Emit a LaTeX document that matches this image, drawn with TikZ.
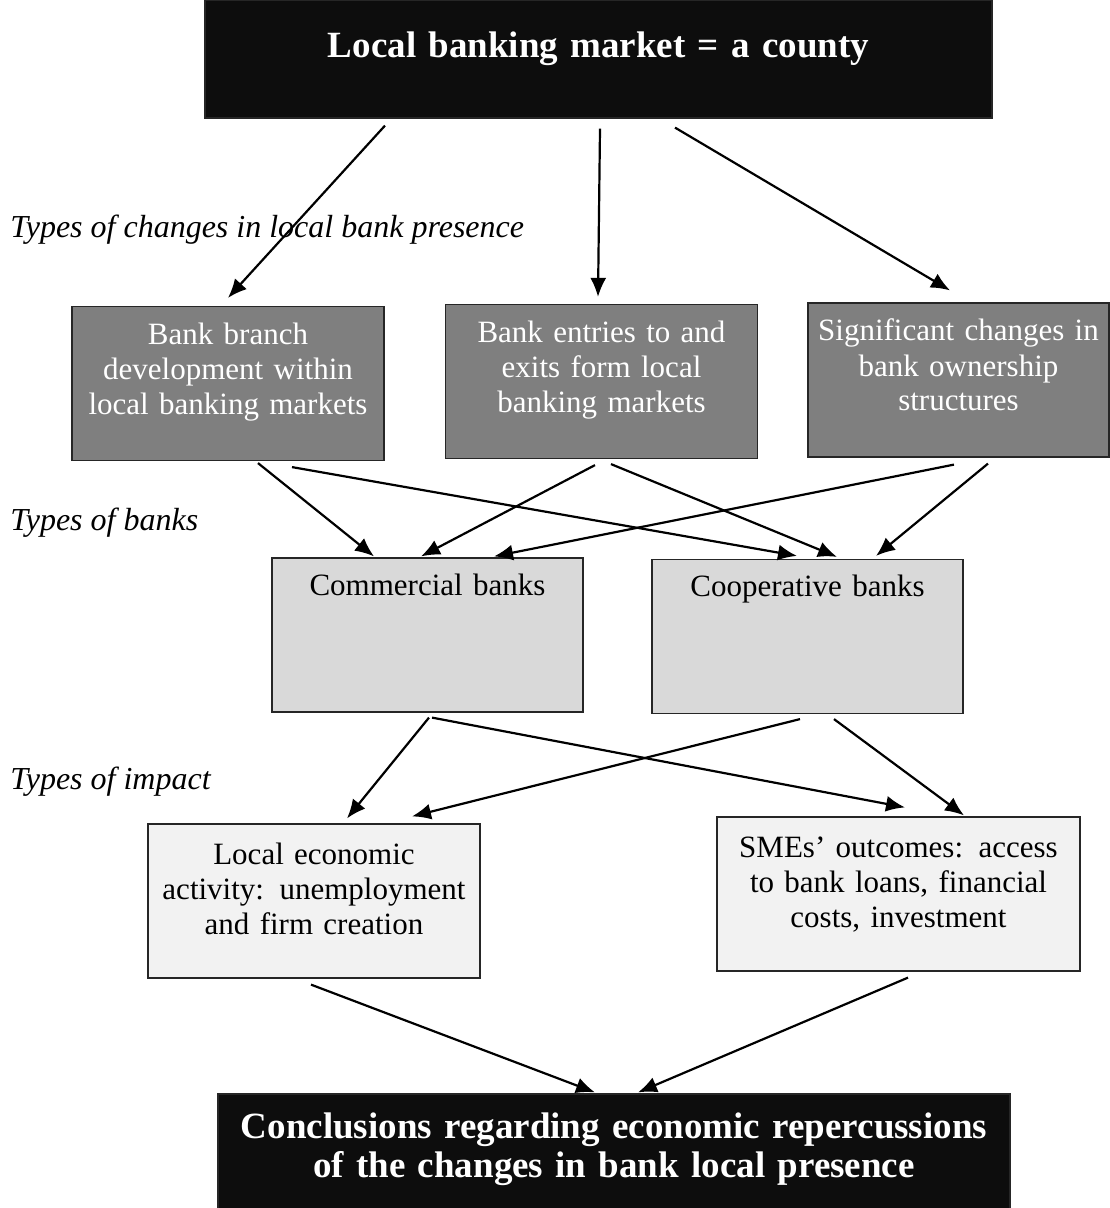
\documentclass[tikz,border=0pt]{standalone}
\usepackage{fontspec}
\setmainfont{Liberation Serif}
\usetikzlibrary{arrows.meta}
\definecolor{nearblack}{HTML}{0D0D0D}
\definecolor{midgrey}{HTML}{7F7F7F}
\definecolor{lightgrey}{HTML}{D9D9D9}
\definecolor{palegrey}{HTML}{F2F2F2}
\tikzset{
	box/.style = {rectangle, align=center, inner xsep=2pt, inner ysep=0pt, draw=black!85, line width=0.6pt, font=\fontsize{15.5}{17.5}\selectfont},
	headbox/.style = {box, fill=nearblack, text=white, font=\bfseries\fontsize{18.5}{19.5}\selectfont},
	changebox/.style = {box, fill=midgrey, text=white, text width=152pt, text height=19pt, text depth=58pt},
	bankbox/.style = {box, fill=lightgrey, text width=151.5pt, text height=18.5pt, text depth=58.5pt},
	impactbox/.style = {box, fill=palegrey, text height=20pt, text depth=57pt},
	typelabel/.style = {anchor=west, inner sep=0pt, font=\itshape\fontsize{16}{18}\selectfont},
	link/.style = {-{Latex[length=9.5pt,width=8pt]}, line width=1.1pt}
}

\begin{document}
\begin{tikzpicture}[x=0.5pt, y=-0.5pt]
\useasboundingbox (0,0) rectangle (1109,1208);

\node [headbox, text width=389.5pt, text height=29pt, text depth=30pt] (market) at (598.5,59) {Local banking market = a county};

\node [typelabel] (changes) at (10,230) {Types of changes in local bank presence};
\node [changebox] (branch) at (228,383.5) {Bank branch\\development within\\local banking markets};
\node [changebox] (entry) at (601.5,381.5) {Bank entries to and\\exits form local\\banking markets};
\node [changebox, text width=146.5pt] (owner) at (958.5,380) {Significant changes in\\bank ownership\\structures};

\node [typelabel] (banks) at (10,523) {Types of banks};
\node [bankbox] (commercial) at (427.5,635) {Commercial banks};
\node [bankbox] (cooperative) at (807.5,636.5) {Cooperative banks};

\node [typelabel] (impact) at (10,782) {Types of impact};
\node [impactbox, text width=162pt] (economy) at (314,901) {Local economic\\activity: unemployment\\and firm creation};
\node [impactbox, text width=177.5pt] (smes) at (898.5,894) {SMEs’ outcomes: access\\to bank loans, financial\\costs, investment};

\node [headbox, text width=392pt, text height=22pt, text depth=36pt] (conclusion) at (614,1152) {Conclusions regarding economic repercussions\\of the changes in bank local presence};

\draw [link] ([shift={(-213.5,7)}]market.south) -- ([shift={(0,-8)}]branch.north);
\draw [link] ([shift={(1.5,10)}]market.south) -- ([shift={(-3.5,-7)}]entry.north);
\draw [link] ([shift={(76.5,9)}]market.south) -- ([shift={(-8.5,-12)}]owner.north);

\draw [link] ([shift={(30,2)}]branch.south) -- ([shift={(-53.5,-1)}]commercial.north);
\draw [link] ([shift={(64,6)}]branch.south) -- ([shift={(-10.5,-3)}]cooperative.north);
\draw [link] ([shift={(-6.5,6)}]entry.south) -- ([shift={(-6.5,-1)}]commercial.north);
\draw [link] ([shift={(9.5,5)}]entry.south) -- ([shift={(29.5,-2)}]cooperative.north);
\draw [link] ([shift={(-4.5,7)}]owner.south) -- ([shift={(66.5,-1)}]commercial.north);
\draw [link] ([shift={(29.5,6)}]owner.south) -- ([shift={(68.5,-3)}]cooperative.north);

\draw [link] ([shift={(1.5,5)}]commercial.south) -- ([shift={(33,-5)}]economy.north);
\draw [link] ([shift={(4.5,5)}]commercial.south) -- ([shift={(6.5,-9)}]smes.north);
\draw [link] ([shift={(-7.5,5)}]cooperative.south) -- ([shift={(98,-7)}]economy.north);
\draw [link] ([shift={(26.5,5)}]cooperative.south) -- ([shift={(65.5,-1)}]smes.north);

\draw [link] ([shift={(-3,6)}]economy.south) -- ([shift={(-19,-1)}]conclusion.north);
\draw [link] ([shift={(9.5,6)}]smes.south) -- ([shift={(24,-1)}]conclusion.north);
\end{tikzpicture}
\end{document}
